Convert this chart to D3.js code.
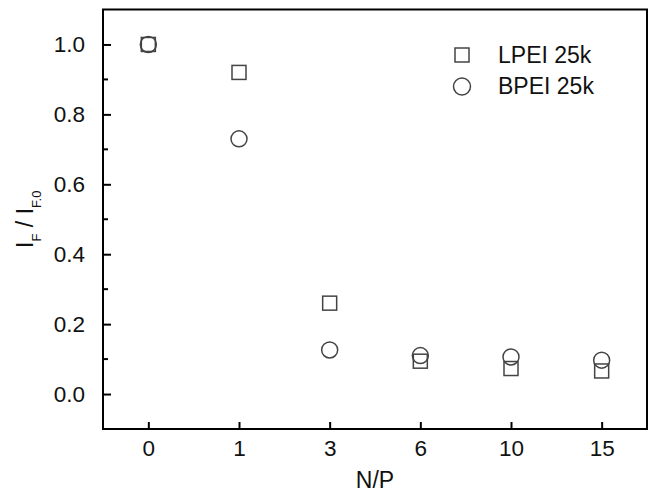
<!DOCTYPE html>
<html>
<head>
<meta charset="utf-8">
<script src="https://cdn.jsdelivr.net/npm/d3@7"></script>
<style>
	body { margin: 0; background: #fff; }
	svg { display: block; font-family: "Liberation Sans", Arial, sans-serif; }
</style>
</head>
<body>
<svg id="chart" width="652" height="494"></svg>
<script>
// N/P ratios on the x axis (equally spaced categories)
const categories = ["0", "1", "3", "6", "10", "15"];
const lpei = [1.0, 0.92, 0.26, 0.094, 0.073, 0.066];
const bpei = [1.0, 0.73, 0.126, 0.11, 0.106, 0.097];
const yTicks = [0.0, 0.2, 0.4, 0.6, 0.8, 1.0];
const yMinorTicks = [-0.1, 0.1, 0.3, 0.5, 0.7, 0.9, 1.1];
const legendItems = ["LPEI 25k", "BPEI 25k"];

const margin = {top: 9.5, right: 5, bottom: 65, left: 103};
const width = 652, height = 494;

const svg = d3.select('#chart');

const x = d3.scalePoint()
	.domain(categories)
	.range([margin.left, width - margin.right])
	.padding(0.5);

const y = d3.scaleLinear()
	.domain([-0.1, 1.1])
	.range([height - margin.bottom, margin.top]);

const STROKE = '#000';
const MARK = '#444';

// frame
svg.append('rect')
	.attr('x', margin.left)
	.attr('y', margin.top)
	.attr('width', width - margin.right - margin.left)
	.attr('height', height - margin.bottom - margin.top)
	.attr('fill', 'none')
	.attr('stroke', STROKE)
	.attr('stroke-width', 2);

// y axis (ticks inside)
const yAxis = svg.append('g')
	.attr('transform', `translate(${margin.left},0)`)
	.call(d3.axisLeft(y).tickValues(yTicks).tickFormat(d3.format('.1f')).tickSize(-8).tickPadding(18));
yAxis.select('.domain').remove();
yAxis.selectAll('line').attr('stroke', STROKE).attr('stroke-width', 2);
yAxis.selectAll('text').attr('font-size', 22.5).attr('fill', '#111').attr('font-family', null);

svg.append('g')
	.selectAll('line')
	.data(yMinorTicks.filter(d => d > -0.1 && d < 1.1))
	.join('line')
	.attr('x1', margin.left)
	.attr('x2', margin.left + 5)
	.attr('y1', d => y(d))
	.attr('y2', d => y(d))
	.attr('stroke', STROKE)
	.attr('stroke-width', 2);

// x axis (ticks inside)
const xAxis = svg.append('g')
	.attr('transform', `translate(0,${height - margin.bottom})`)
	.call(d3.axisBottom(x).tickSize(-7).tickPadding(11));
xAxis.select('.domain').remove();
xAxis.selectAll('line').attr('stroke', STROKE).attr('stroke-width', 2);
xAxis.selectAll('text').attr('font-size', 22.5).attr('fill', '#111').attr('font-family', null);

// axis titles
svg.append('text')
	.attr('x', (margin.left + width - margin.right) / 2)
	.attr('y', 488)
	.attr('text-anchor', 'middle')
	.attr('font-size', 23)
	.attr('fill', '#111')
	.text('N/P');

const yTitle = svg.append('text')
	.attr('transform', `translate(33,${(margin.top + height - margin.bottom) / 2}) rotate(-90)`)
	.attr('text-anchor', 'middle')
	.attr('font-size', 23)
	.attr('fill', '#111');
yTitle.append('tspan').text('I');
yTitle.append('tspan').attr('font-size', 13).attr('dy', 8).text('F');
yTitle.append('tspan').attr('dy', -8).text(' / I');
yTitle.append('tspan').attr('font-size', 13).attr('dy', 8).text('F.0');

// data marks
const SQ = 14, R = 8;
svg.append('g')
	.selectAll('rect')
	.data(lpei)
	.join('rect')
	.attr('x', (d, i) => x(categories[i]) - SQ / 2)
	.attr('y', d => y(d) - SQ / 2)
	.attr('width', SQ)
	.attr('height', SQ)
	.attr('fill', 'none')
	.attr('stroke', MARK)
	.attr('stroke-width', 1.5);

svg.append('g')
	.selectAll('circle')
	.data(bpei)
	.join('circle')
	.attr('cx', (d, i) => x(categories[i]))
	.attr('cy', d => y(d))
	.attr('r', R)
	.attr('fill', 'none')
	.attr('stroke', MARK)
	.attr('stroke-width', 1.5);

// legend
const legend = svg.append('g').attr('transform', 'translate(462,55)');
legend.append('rect')
	.attr('x', -SQ / 2).attr('y', -SQ / 2)
	.attr('width', SQ).attr('height', SQ)
	.attr('fill', 'none').attr('stroke', MARK).attr('stroke-width', 1.5);
legend.append('circle')
	.attr('cx', 0).attr('cy', 31.5).attr('r', R + 0.5)
	.attr('fill', 'none').attr('stroke', MARK).attr('stroke-width', 1.5);
legend.selectAll('text')
	.data(legendItems)
	.join('text')
	.attr('x', 36)
	.attr('y', (d, i) => 8 + i * 31)
	.attr('font-size', 23)
	.attr('fill', '#111')
	.text(d => d);
</script>
</body>
</html>
